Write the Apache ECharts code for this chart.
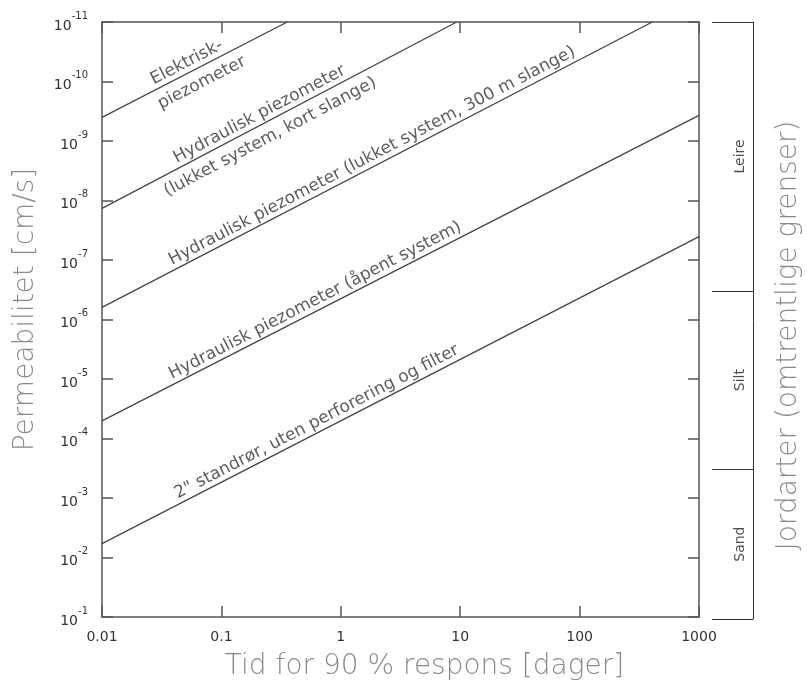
<!DOCTYPE html>
<html>
<head>
<meta charset="utf-8">
<title>Permeabilitet og responstid</title>
<script src="https://cdn.jsdelivr.net/npm/echarts@6/dist/echarts.min.js"></script>
<style>
  html, body { margin: 0; padding: 0; background: #fff; }
  #chart { width: 807px; height: 686px; }
</style>
</head>
<body>
<div id="chart"></div>
<script>
// akser
const timeLabels = ['0.01', '0.1', '1', '10', '100', '1000'];
const permExponents = [-11, -10, -9, -8, -7, -6, -5, -4, -3, -2, -1];

// linjer: [tid (dager), permeabilitet (cm/s)] ved start og slutt
const elektrisk = [[0.01, 4.0e-10], [0.356, 1e-11]];
const hydrKort = [[0.01, 1.36e-8], [9.35, 1e-11]];
const hydr300 = [[0.01, 6.25e-7], [406, 1e-11]];
const hydrApent = [[0.01, 5.07e-5], [1000, 3.72e-10]];
const standror = [[0.01, 5.83e-3], [1000, 4.04e-8]];
const curves = [elektrisk, hydrKort, hydr300, hydrApent, standror];

// jordarter
const soilBounds = [1e-11, 3.2e-7, 3.1e-4, 0.1];
const soilNames = ['Leire', 'Silt', 'Sand'];

// tekst langs linjene: [linje, tid ved tekstens midte, tekst, over/under]
const lineTexts = [
  [elektrisk, 0.056, 'Elektrisk-', 'over'],
  [elektrisk, 0.060, 'piezometer', 'under'],
  [hydrKort, 0.228, 'Hydraulisk piezometer', 'over'],
  [hydrKort, 0.224, '(lukket system, kort slange)', 'under'],
  [hydr300, 2.0, 'Hydraulisk piezometer (lukket system, 300 m slange)', 'over'],
  [hydrApent, 0.667, 'Hydraulisk piezometer (åpent system)', 'over'],
  [standror, 0.686, '2" standrør, uten perforering og filter', 'over']
];

const FONT = 'DejaVu Sans';
const G = { left: 102, top: 22, width: 597, height: 597 };
const pxX = G.width / 5;   // piksler per dekade
const pxY = G.height / 10;

const lg = Math.log10;
const timeValues = timeLabels.map(Number);
const permValues = permExponents.map(e => Math.pow(10, e));

// punkt på linjen ved tid t (linjen er rett i log-log)
function onLine(line, t) {
  const [[t0, k0], [t1, k1]] = line;
  const f = (lg(t) - lg(t0)) / (lg(t1) - lg(t0));
  return Math.pow(10, lg(k0) + f * (lg(k1) - lg(k0)));
}
function angleOf(line) {
  const [[t0, k0], [t1, k1]] = line;
  const dy = (lg(k0) - lg(k1)) * pxY;
  const dx = (lg(t1) - lg(t0)) * pxX;
  return Math.atan2(dy, dx) * 180 / Math.PI;
}

const axisColor = '#555';
const textColor = '#333';
const titleStyle = { fontFamily: FONT, fontSize: 28, color: '#8a8a8a', fontWeight: 200 };

const chart = echarts.init(document.getElementById('chart'));

const baseX = {
  type: 'log', logBase: 10, min: 0.01, max: 1000, gridIndex: 0,
  axisLine: { show: true, onZero: false, lineStyle: { color: axisColor, width: 1.5 } },
  axisTick: { show: true, inside: true, length: 11, customValues: timeValues, lineStyle: { color: axisColor, width: 1.5 } },
  splitLine: { show: false }
};
const baseY = {
  type: 'log', logBase: 10, min: 1e-11, max: 0.1, inverse: true, gridIndex: 0,
  axisLine: { show: true, onZero: false, lineStyle: { color: axisColor, width: 1.5 } },
  axisTick: { show: true, inside: true, length: 11, customValues: permValues, lineStyle: { color: axisColor, width: 1.5 } },
  splitLine: { show: false }
};

const option = {
  animation: false,
  backgroundColor: '#fff',
  grid: [
    { left: G.left, top: G.top, width: G.width, height: G.height },
    { left: 713, top: G.top, width: 40, height: G.height }
  ],
  xAxis: [
    Object.assign({}, baseX, {
      position: 'bottom',
      axisLabel: {
        customValues: timeValues,
        fontFamily: FONT, fontSize: 14, color: textColor, margin: 13,
        formatter: v => timeLabels[Math.round(lg(v)) + 2]
      },
      name: 'Tid for 90 % respons [dager]',
      nameLocation: 'middle', nameGap: 36,
      nameTextStyle: Object.assign({ padding: [0, 0, 0, 48] }, titleStyle)
    }),
    Object.assign({}, baseX, { position: 'top', axisLabel: { show: false } }),
    { gridIndex: 1, type: 'value', min: 0, max: 1, show: false }
  ],
  yAxis: [
    Object.assign({}, baseY, {
      position: 'left',
      axisLabel: {
        customValues: permValues,
        fontFamily: FONT, color: textColor, margin: 14,
        formatter: v => '{b|10}{e|' + Math.round(lg(v)) + '}',
        rich: {
          b: { fontFamily: FONT, fontSize: 14, color: textColor, lineHeight: 22, verticalAlign: 'bottom', padding: [6, 0, 0, 0] },
          e: { fontFamily: FONT, fontSize: 10, color: textColor, lineHeight: 22, verticalAlign: 'top' }
        }
      },
      name: 'Permeabilitet [cm/s]',
      nameLocation: 'middle', nameGap: 62, nameRotate: 90,
      nameTextStyle: Object.assign({ padding: [0, 0, 0, 20] }, titleStyle)
    }),
    Object.assign({}, baseY, { position: 'right', axisLabel: { show: false } }),
    {
      gridIndex: 1, type: 'log', logBase: 10, min: 1e-11, max: 0.1, inverse: true, position: 'right',
      axisLine: { show: true, onZero: false, lineStyle: { color: '#333', width: 1 } },
      axisTick: { show: true, inside: true, length: 41, customValues: soilBounds, lineStyle: { color: '#333', width: 1 } },
      axisLabel: { show: false },
      splitLine: { show: false },
      name: 'Jordarter (omtrentlige grenser)',
      nameLocation: 'middle', nameGap: 22, nameRotate: 90,
      nameTextStyle: Object.assign({ padding: [0, 30, 0, 0] }, titleStyle)
    }
  ],
  series: [
    ...curves.map(c => ({
      type: 'line', xAxisIndex: 0, yAxisIndex: 0, data: c,
      symbol: 'none', silent: true,
      lineStyle: { color: '#444', width: 1.3 }
    })),
    {
      type: 'scatter', xAxisIndex: 0, yAxisIndex: 0, symbolSize: 0, silent: true,
      data: lineTexts.map(([line, t, text, side]) => ({
        value: [t, onLine(line, t)],
        label: {
          show: true, position: 'inside', formatter: text,
          rotate: angleOf(line),
          offset: [0, side === 'over' ? -10 : 15],
          fontFamily: FONT, fontSize: 17, color: textColor
        }
      }))
    },
    {
      type: 'scatter', xAxisIndex: 2, yAxisIndex: 2, symbolSize: 0, silent: true,
      data: soilNames.map((name, i) => ({
        value: [0.68, Math.sqrt(soilBounds[i] * soilBounds[i + 1])],
        label: {
          show: true, position: 'inside', formatter: name, rotate: 90,
          fontFamily: FONT, fontSize: 14, color: '#222'
        }
      }))
    }
  ]
};

chart.setOption(option);
</script>
</body>
</html>
